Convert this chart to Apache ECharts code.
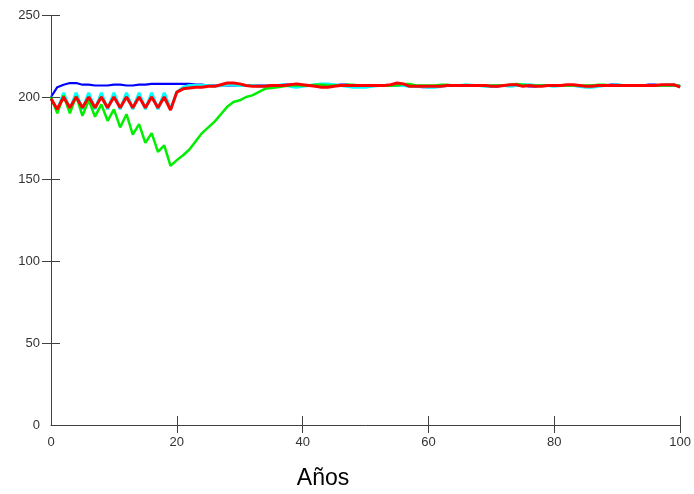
<!DOCTYPE html>
<html><head><meta charset="utf-8">
<script src="https://cdn.jsdelivr.net/npm/echarts@6/dist/echarts.min.js"></script>
<style>html,body{margin:0;padding:0;background:#fff}#c{width:694px;height:494px}</style>
</head><body><div id="c"></div>
<script>
var years = [0,1,2,3,4,5,6,7,8,9,10,11,12,13,14,15,16,17,18,19,20,21,22,23,24,25,26,27,28,29,30,31,32,33,34,35,36,37,38,39,40,41,42,43,44,45,46,47,48,49,50,51,52,53,54,55,56,57,58,59,60,61,62,63,64,65,66,67,68,69,70,71,72,73,74,75,76,77,78,79,80,81,82,83,84,85,86,87,88,89,90,91,92,93,94,95,96,97,98,99,100];

var blueSeries = [200,206,207.5,208.5,208.5,207.5,207.5,207,207,207,207.5,207.5,207,207,207.5,207.5,208,208,208,208,
  208,208,208,207.5,207.5,207,207,207,207,207,207,207,207,207,207,207,207,207.5,207.5,207,
  207,207,207,207,207,207,207.5,207.5,207,207,207,207,207,207,207,207,207,207,206.5,206,
  206,206.5,207,207,207,207,207,207,207,207,206.5,206.5,207,207,207,207,206.5,206.5,207,207,
  207,207,207,207,206.5,206.5,207,207,207,207.5,207.5,207,207,207,207,207.5,207.5,207,207,207,206.5];

var cyanSeries = [199,192,202.5,192.5,202.5,192.5,202.5,192.5,202.5,192.5,202.5,192.5,202.5,192.5,202.5,192.5,202.5,192.5,202.5,192.5,
  203,206,207,207,207,207,206.5,207,207.5,207.5,207,207,207,206.5,206.5,206.5,207,207.5,206.5,206,
  206.5,207,207.5,208,208,207.5,207,206.5,206,206,206,206.5,207,207,207,207.5,207,206.5,206.5,206.5,
  206,206,206.5,207,207,207,207.5,207,207,206.5,206.5,207,207,206.5,207,207.5,207.5,207,207,207,
  206.5,207,207,207,206.5,206,206,206.5,207,207,207.5,207,207,207,207,207,207,207,207.5,207.5,206.5];

var greenSeries = [200,190,201,190,200.5,188.5,198,188,195.5,185.5,192.5,181.5,189.5,177,183.5,172,178,166.5,170.5,158,
  161.5,164.5,168,173,178,181.5,185,189.5,194,197,198,200,201,203,205,205.5,206,206.5,207,207,
  207,207,207.5,207.5,207,207,207,207.5,207.5,207,207,207,207,207,207,207,208,208,207,207,
  207,207,207.5,207.5,207,207,207,207,207,207,207,207,207,207.5,208,207.5,207,207,207,207,
  207,207,207,207,207,207,207,207.5,207.5,207,207,207,207,207,207,207,207,207,207,207,207];

var redSeries = [199,192.5,200,193.5,200,193.5,200,193.5,200,193.5,200,193.5,200,193.5,200,193.5,200,193.5,200,192,
  203,205,205.5,206,206,206.5,206.5,207.5,208.5,208.5,208,207,206.5,206.5,206.5,207,207,207,207.5,208,
  207.5,207,206.5,206,206,206.5,207,207,207,207,207,207,207,207,207.5,208.5,208,206.5,206.5,206.5,
  206.5,206.5,206.5,207,207,207,207,207,207,207,206.5,206.5,207,207.5,207.5,206.5,207,206.5,206.5,207,
  207,207,207.5,207.5,207,206.5,206.5,207,207,207,207,207,207,207,207,207,207,207.5,207.5,207.5,206];

var xTickLabels = [0,20,40,60,80,100];
var yTickLabels = [0,50,100,150,200,250];
var xTickMarks = [20,40,60,80,100];
var yTickMarks = [50,100,150,200,250];
var xTitle = 'Años';

function pairs(vals){ return years.map(function(y,i){ return [y, vals[i]]; }); }

var axisColor = '#404040';
var labelStyle = {color:'#333', fontFamily:'Arial, "Liberation Sans", sans-serif', fontSize:13};

var chart = echarts.init(document.getElementById('c'), null, {renderer:'canvas'});
chart.setOption({
  animation:false,
  backgroundColor:'#fff',
  grid:{left:51, right:13, top:15, bottom:69, containLabel:false},
  xAxis:[
    {type:'value', min:0, max:100, interval:20, position:'bottom',
     axisLine:{show:true, onZero:false, lineStyle:{color:axisColor, width:1}},
     axisTick:{show:true, inside:false, length:8, customValues:xTickMarks, lineStyle:{color:axisColor}},
     axisLabel:Object.assign({margin:11, customValues:xTickLabels}, labelStyle),
     splitLine:{show:false}},
    {type:'value', min:0, max:100, interval:20, position:'bottom', offset:-9,
     axisLine:{show:false, onZero:false},
     axisTick:{show:true, inside:false, length:9, customValues:xTickMarks, lineStyle:{color:axisColor}},
     axisLabel:{show:false}, splitLine:{show:false}}
  ],
  yAxis:[
    {type:'value', min:0, max:250, interval:50, position:'left', offset:-9,
     axisLine:{show:false, onZero:false},
     axisTick:{show:true, inside:false, length:18, customValues:yTickMarks, lineStyle:{color:axisColor}},
     axisLabel:Object.assign({margin:20, customValues:yTickLabels}, labelStyle),
     splitLine:{show:false}}
  ],
  series:[
    {type:'line', data:pairs(blueSeries), showSymbol:false, lineStyle:{color:'#0000ff', width:2.2}, itemStyle:{color:'#0000ff'},
     markLine:{silent:true, symbol:'none', label:{show:false}, lineStyle:{color:axisColor, width:1, type:'solid'},
       data:[{xAxis:0}]}},
    {type:'line', data:pairs(cyanSeries), showSymbol:false, lineStyle:{color:'#00ffff', width:3}, itemStyle:{color:'#00ffff'}},
    {type:'line', data:pairs(greenSeries), showSymbol:false, lineStyle:{color:'#00ee00', width:2.5}, itemStyle:{color:'#00ee00'}},
    {type:'line', data:pairs(redSeries), showSymbol:false, lineStyle:{color:'#ff0000', width:3}, itemStyle:{color:'#ff0000'}}
  ],
  graphic:[
    {type:'text', x:323, y:479, style:{text:xTitle, fill:'#000', font:'23px Arial, "Liberation Sans", sans-serif', textAlign:'center', textVerticalAlign:'middle'}}
  ]
});
</script>
</body></html>
